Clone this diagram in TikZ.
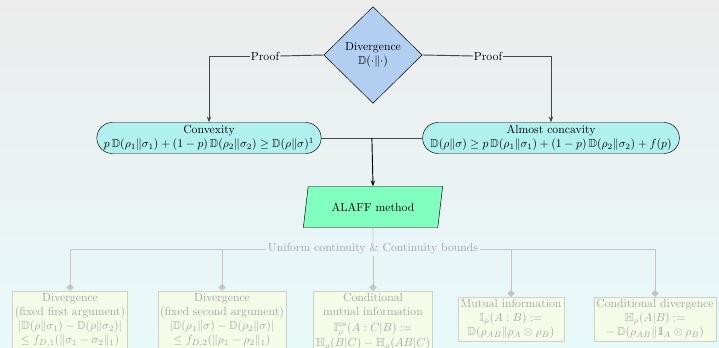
\documentclass[tikz,border=0pt]{standalone}
\usepackage{amsmath,amssymb}
\usepackage{tikz}
\usetikzlibrary{shapes.geometric,shapes.misc,arrows.meta}

\newcommand{\idop}{\mathrm{1\kern-0.25em l}}
\definecolor{bgtop}{RGB}{236,236,236}
\definecolor{bgbot}{RGB}{232,249,250}
\definecolor{divblue}{RGB}{178,206,240}
\definecolor{propcyan}{RGB}{176,240,238}
\definecolor{methgreen}{RGB}{128,255,190}
\definecolor{appfill}{RGB}{244,252,232}
\definecolor{appdraw}{RGB}{205,212,198}
\definecolor{apptext}{RGB}{165,165,165}
\definecolor{linkgray}{RGB}{70,70,70}

\begin{document}
\begin{tikzpicture}[x=0.03cm, y=-0.03cm,
    divnode/.style={diamond, draw, fill=divblue, aspect=1, inner sep=0pt,
        minimum width=2.95cm, minimum height=2.9cm, align=center},
    propnode/.style={rounded rectangle, draw, fill=propcyan, inner sep=1pt,
        minimum height=0.93cm, align=center},
    methnode/.style={trapezium, trapezium left angle=76, trapezium right angle=104,
        trapezium stretches=true, draw, fill=methgreen, inner sep=2pt,
        minimum height=1.23cm, minimum width=4.2cm, align=center},
    appnode/.style={rectangle, draw=appdraw, fill=appfill, text=apptext,
        inner sep=2pt, align=center, anchor=north},
    link/.style={linkgray, thick},
    applink/.style={gray!45, thick, -{Diamond[length=6pt,width=6pt]}}]
% background
    \shade[top color=bgtop, middle color=white, bottom color=bgbot] (0,0) rectangle (719,348);
    \useasboundingbox (0,0) rectangle (719,348);
% divergence and its two properties
    \node[divnode] (div) at (373,55) {Divergence\\$\mathbb{D}(\cdot\|\cdot)$};
    \node[propnode, minimum width=6.8cm] (conv) at (209,138) {Convexity\\
        $p\,\mathbb{D}(\rho_1\|\sigma_1)+(1-p)\,\mathbb{D}(\rho_2\|\sigma_2)\geq\mathbb{D}(\rho\|\sigma)^1$};
    \node[propnode, minimum width=7.7cm] (almost) at (551,138) {Almost concavity\\
        $\mathbb{D}(\rho\|\sigma)\geq p\,\mathbb{D}(\rho_1\|\sigma_1)+(1-p)\,\mathbb{D}(\rho_2\|\sigma_2)+f(p)$};
    \node[inner sep=0.5pt] (proofL) at (265,56) {Proof};
    \node[inner sep=0.5pt] (proofR) at (488,56) {Proof};
    \draw[link] (div.west) -- (proofL.east);
    \draw[link] (div.east) -- (proofR.west);
    \draw[link][-{Stealth[length=5pt]}] (proofL.west) -| (conv.north);
    \draw[link][-{Stealth[length=5pt]}] (proofR.east) -| (almost.north);
% method
    \node[methnode] (alaff) at (373,207) {ALAFF method};
    \draw[link] (conv.east) -- coordinate[midway] (join) (almost.west);
    \draw[black, thick, -{Stealth[length=5pt]}] (join) -- (alaff.north);
% applications
    \node[text=apptext, inner sep=1.5pt] (unif) at (373,249)
        {Uniform continuity \& Continuity bounds};
    \node[appnode] (app1) at (70,291) {Divergence\\(fixed first argument)\\
        $|\mathbb{D}(\rho\|\sigma_1)-\mathbb{D}(\rho\|\sigma_2)|$\\$\leq f_{D,1}(\|\sigma_1-\sigma_2\|_1)$};
    \node[appnode] (app2) at (222,291) {Divergence\\(fixed second argument)\\
        $|\mathbb{D}(\rho_1\|\sigma)-\mathbb{D}(\rho_2\|\sigma)|$\\$\leq f_{D,2}(\|\rho_1-\rho_2\|_1)$};
    \node[appnode] (app3) at (373,291) {Conditional\\mutual information\\[1pt]
        $\mathbb{I}^{\mathrm{os}}_\rho(A:C|B):=$\\[1pt]$\mathbb{H}_\rho(B|C)-\mathbb{H}_\rho(AB|C)$};
    \node[appnode] (app4) at (511,297) {Mutual information\\
        $\mathbb{I}_\rho(A:B):=$\\$\mathbb{D}(\rho_{AB}\|\rho_A\otimes\rho_B)$};
    \node[appnode] (app5) at (655,297) {Conditional divergence\\
        $\mathbb{H}_\rho(A|B):=$\\$-\,\mathbb{D}(\rho_{AB}\|\idop_A\otimes\rho_B)$};
    \draw[gray!45, thick] (alaff.south) -- (unif.north);
    \draw[applink] (unif.south) -- (app3.north);
    \draw[applink] (unif.west) -| (app1.north);
    \draw[applink] (unif.west) -| (app2.north);
    \draw[applink] (unif.east) -| (app4.north);
    \draw[applink] (unif.east) -| (app5.north);
\end{tikzpicture}
\end{document}
